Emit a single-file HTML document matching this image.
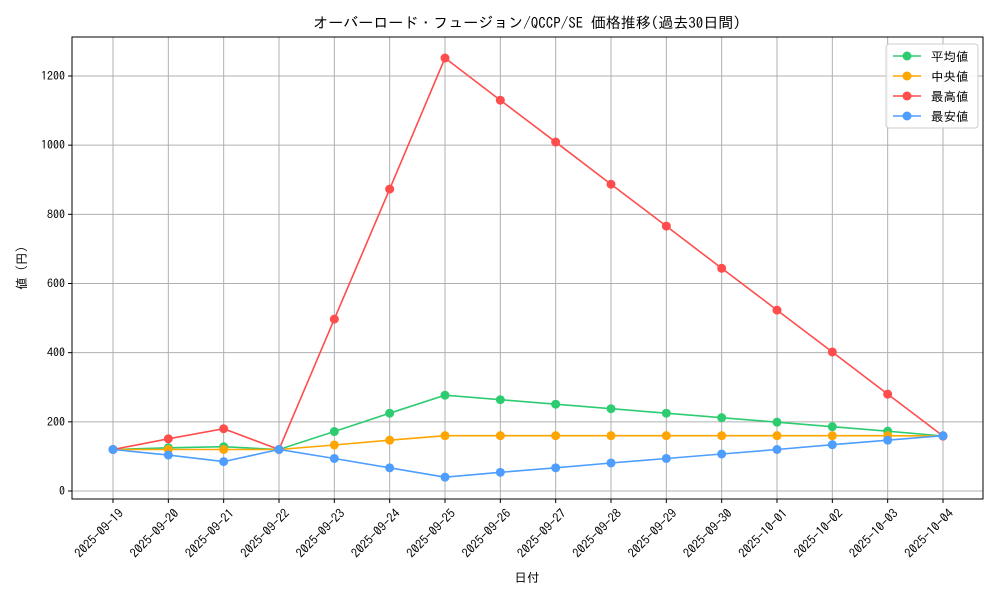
<!DOCTYPE html>
<html><head><meta charset="utf-8"><style>
body{margin:0;background:#fff}
svg text{font-family:"IPAGothic","Liberation Mono","Noto Sans CJK JP",monospace;fill:#000}
</style></head><body>
<svg id="c" width="1000" height="600" xmlns="http://www.w3.org/2000/svg"></svg>
<script>
const dates=["2025-09-19","2025-09-20","2025-09-21","2025-09-22","2025-09-23","2025-09-24","2025-09-25","2025-09-26","2025-09-27","2025-09-28","2025-09-29","2025-09-30","2025-10-01","2025-10-02","2025-10-03","2025-10-04"];
const avgVals=[120,125,128,120,172,225,277,264,251,238,225,212,199,186,173,159];
const medVals=[120,120,120,120,133,147,160,160,160,160,160,160,160,160,160,159];
const maxVals=[120,151,180,120,497,873,1252,1130,1009,887,766,644,523,402,280,159];
const minVals=[120,104,85,120,94,67,40,54,67,81,94,107,120,134,147,160];
const yTicks=[0,200,400,600,800,1000,1200];
const series=[["平均値",avgVals,"#2ecc71","avg"],["中央値",medVals,"#ffa500","median"],["最高値",maxVals,"#ff4d4d","max"],["最安値",minVals,"#4d9eff","min"]];
const L=72,R=983,T=37,B=499;
const x=i=>113+i*(943-113)/(dates.length-1);
const y=v=>491-v*(491-76)/1200;
const svg=document.getElementById('c');const NS="http://www.w3.org/2000/svg";
function mk(t,a,p){const e=document.createElementNS(NS,t);for(const k in a)e.setAttribute(k,a[k]);(p||svg).appendChild(e);return e;}
dates.forEach((d,i)=>{const g=mk('line',{x1:x(i),x2:x(i),y1:T,y2:B,stroke:'#b0b0b0','stroke-width':1});


mk('line',{x1:x(i),x2:x(i),y1:B,y2:B+4,stroke:'#000'});
const t=mk('text',{x:x(i)+5,y:B+9,'font-size':12.5,'text-anchor':'end',transform:`rotate(-45 ${x(i)+5} ${B+9})`,dy:'0.7em'});t.textContent=d;

});
yTicks.forEach(v=>{const g=mk('line',{x1:L,x2:R,y1:y(v),y2:y(v),stroke:'#b0b0b0','stroke-width':1});


mk('line',{x1:L-4,x2:L,y1:y(v),y2:y(v),stroke:'#000'});
const t=mk('text',{x:L-7,y:y(v)+4,'font-size':12,'text-anchor':'end'});t.textContent=v;

});
const fr=mk('rect',{x:L,y:T,width:R-L,height:B-T,fill:'none',stroke:'#000','stroke-width':1});


series.forEach(([n,vals,c,k])=>{const pl=mk('polyline',{points:vals.map((v,i)=>x(i)+','+y(v)).join(' '),fill:'none',stroke:c,'stroke-width':1.6});


vals.forEach((v,i)=>{const p=mk('circle',{cx:x(i),cy:y(v),r:4.5,fill:c});

});});
const lg=mk('rect',{x:886,y:44,width:92,height:84,rx:3,fill:'#fff','fill-opacity':0.85,stroke:'#ccc'});


series.forEach(([n,vals,c,k],i)=>{const yy=56+i*20;mk('line',{x1:893,x2:921,y1:yy,y2:yy,stroke:c,'stroke-width':1.6});mk('circle',{cx:907,cy:yy,r:4.5,fill:c});
const t=mk('text',{x:931,y:yy+5,'font-size':12.5});t.textContent=n;

});
const ti=mk('text',{x:527,y:28,'font-size':15,'text-anchor':'middle'});ti.textContent="オーバーロード・フュージョン/QCCP/SE 価格推移(過去30日間)";


const xt=mk('text',{x:527,y:582,'font-size':12.5,'text-anchor':'middle'});xt.textContent="日付";


const yt=mk('text',{x:26,y:268,'font-size':12.5,'text-anchor':'middle',transform:'rotate(-90 26 268)'});yt.textContent="値 (円)";


</script>
</body></html>
